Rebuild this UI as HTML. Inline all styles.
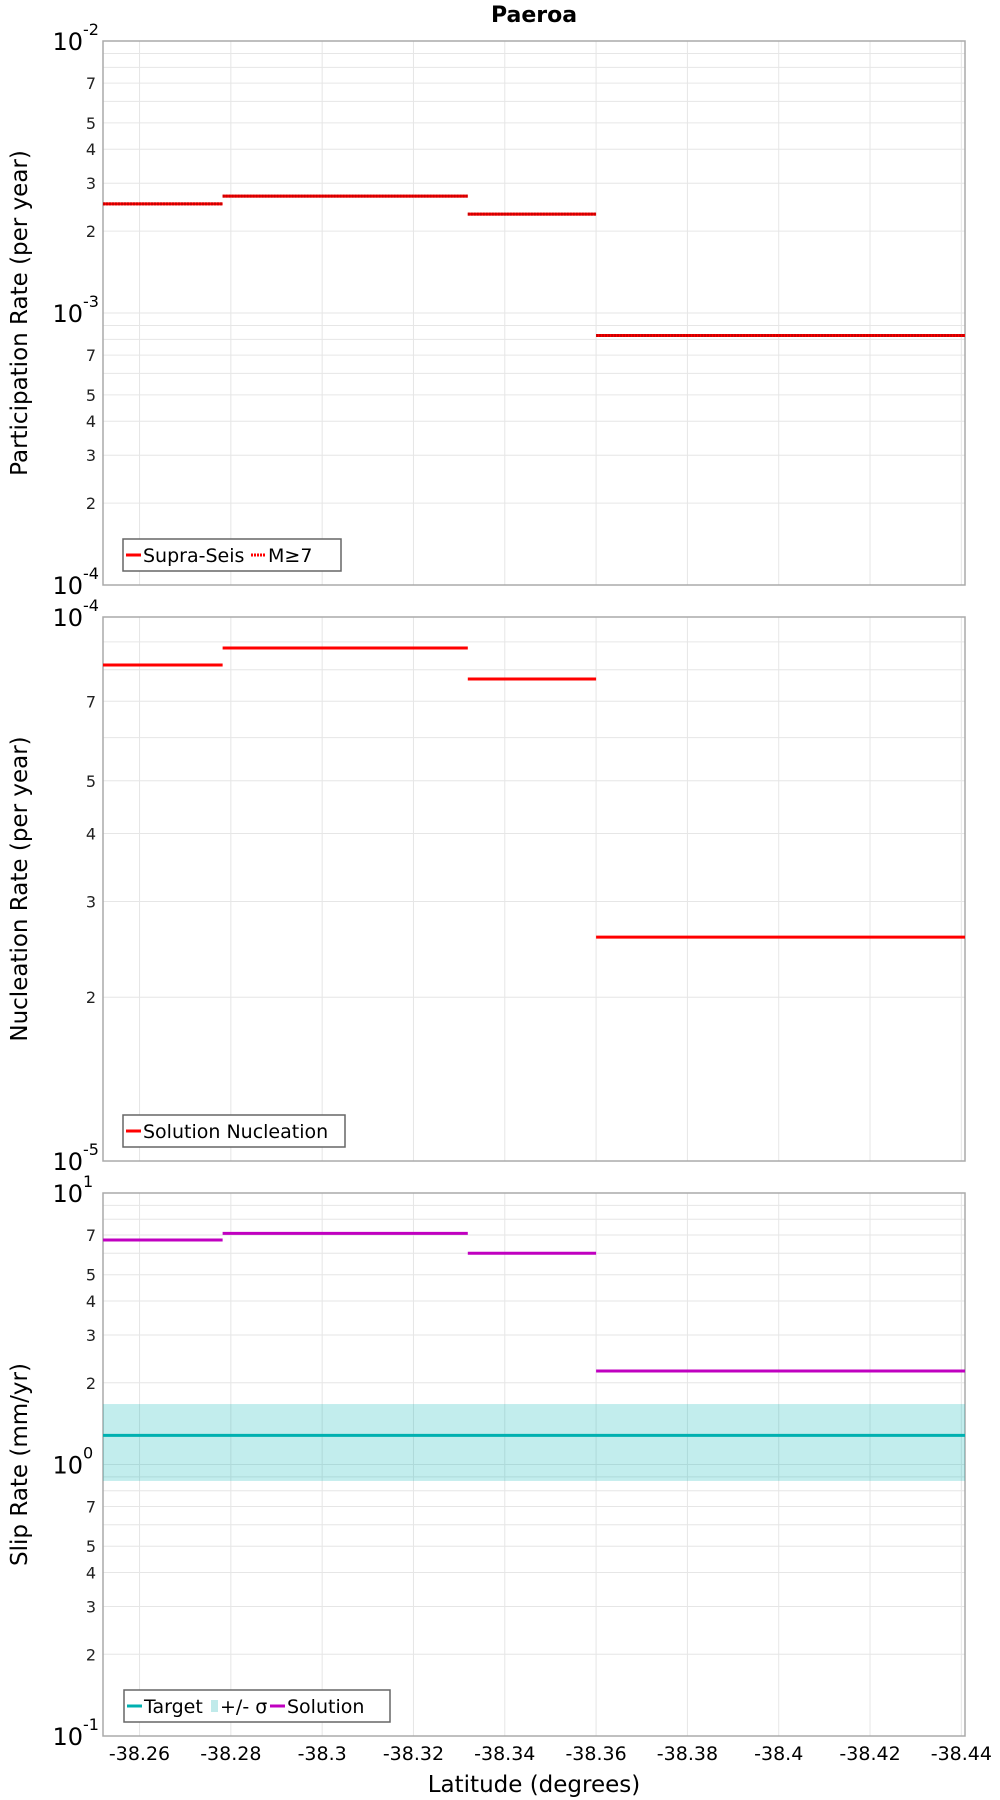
<!DOCTYPE html>
<html><head><meta charset="utf-8"><style>
html,body{margin:0;padding:0;background:#fff;}
svg{display:block;font-family:"DejaVu Sans","Liberation Sans",sans-serif;}
</style></head><body>
<svg id="chart" width="1000" height="1800" viewBox="0 0 1000 1800" xmlns="http://www.w3.org/2000/svg">
<text x="534" y="22" font-size="22" font-weight="bold" text-anchor="middle">Paeroa</text>
<text x="534" y="1792" font-size="23" text-anchor="middle">Latitude (degrees)</text>
</svg>
<script>
// ---- data ----
const xTicks = [-38.26,-38.28,-38.3,-38.32,-38.34,-38.36,-38.38,-38.4,-38.42,-38.44];
const xTickLabels = ["-38.26","-38.28","-38.3","-38.32","-38.34","-38.36","-38.38","-38.4","-38.42","-38.44"];
const segStart = [-38.252,-38.2782,-38.3319,-38.36];
const segEnd   = [-38.2782,-38.3319,-38.36,-38.4408];
const partSupra = [2.52e-3,2.69e-3,2.31e-3,8.27e-4];
const partM7    = [2.52e-3,2.69e-3,2.31e-3,8.27e-4];
const nuclSol   = [8.16e-5,8.77e-5,7.69e-5,2.58e-5];
const slipSol   = [6.71,7.1,6.0,2.21];
const slipTarget = 1.28;
const slipLow = 0.87;
const slipHigh = 1.67;

// ---- layout ----
const X0=103, X1=965, XMIN=-38.252, XMAX=-38.4408;
const NS='http://www.w3.org/2000/svg';
const svg=document.getElementById('chart');
function xs(v){return X0+(v-XMIN)/(XMAX-XMIN)*(X1-X0);}
function mk(tag,attrs,parent){const e=document.createElementNS(NS,tag);for(const k in attrs)e.setAttribute(k,attrs[k]);(parent||svg).appendChild(e);return e;}

function panel(name,top,bottom,dMin,dMax,title){
  const g=mk('g',{});
  
  
  const ys=v=>bottom-(Math.log10(v)-dMin)/(dMax-dMin)*(bottom-top);
  for(const t of xTicks){
    const l=mk('line',{x1:xs(t),x2:xs(t),y1:top,y2:bottom,stroke:'#e6e6e6','stroke-width':1},g);
    
    
  }
  for(let d=dMin; d<dMax; d++){
    for(let m=1;m<=10;m++){
      const v=m*Math.pow(10,d); const y=ys(v);
      const l=mk('line',{x1:X0,x2:X1,y1:y,y2:y,stroke:'#e6e6e6','stroke-width':1},g);
      
      
      if(m===1||m===10){
        if(m===10 && d<dMax-1) continue;
        const ex=(m===10)?d+1:d;
        const t=mk('text',{x:83,y:y+9,'font-size':24,'text-anchor':'end'},g);
        t.textContent='10';
        
        
        const s=mk('text',{x:83,y:y-6,'font-size':16},g);
        s.textContent=String(ex);
        
        
      } else if([2,3,4,5,7].includes(m)){
        const t=mk('text',{x:96,y:y+6,'font-size':16,'text-anchor':'end',fill:'#222'},g);
        t.textContent=String(m);
        
        
      }
    }
  }
  const fr=mk('rect',{x:X0,y:top,width:X1-X0,height:bottom-top,fill:'none',stroke:'#aaa','stroke-width':1.5},g);
  
  
  const cy=(top+bottom)/2;
  const at=mk('text',{x:0,y:0,'font-size':23,'text-anchor':'middle',transform:`translate(27,${cy}) rotate(-90)`},g);
  at.textContent=title;
  
  
  return {g,ys};
}
function steps(p,vals,color,dash,nm){
  for(let i=0;i<vals.length;i++){
    const y=p.ys(vals[i]);
    const a={x1:xs(segStart[i]),x2:xs(segEnd[i]),y1:y,y2:y,stroke:color,'stroke-width':3};
    if(dash)a['stroke-dasharray']=dash;
    const l=mk('line',a,p.g);
    
    
  }
}
function legend(p,x,y,w,items){
  const lg=mk('g',{},p.g);
  
  
  mk('rect',{x:x,y:y,width:w,height:32,fill:'#fff',stroke:'#666','stroke-width':1.5},lg);
  let cx=x+3;
  for(const it of items){
    if(it.box){mk('rect',{x:cx+1,y:y+10,width:7,height:12,fill:it.color},lg);cx+=10;}
    else{const a={x1:cx,x2:cx+15,y1:y+16,y2:y+16,stroke:it.color,'stroke-width':3};if(it.dash)a['stroke-dasharray']=it.dash;mk('line',a,lg);cx+=17;}
    const t=mk('text',{x:cx,y:y+23,'font-size':19},lg);
    t.textContent=it.label;
    
    
    cx+=it.w;
  }
}
const p1=panel('participation',41,585,-4,-2,'Participation Rate (per year)');
steps(p1,partSupra,'#ff0000',null,'supra-seis-segment');
steps(p1,partM7,'#cc0000','2,1','m7-segment');
legend(p1,123,539,218,[{label:'Supra-Seis',color:'#ff0000',w:108},{label:'M≥7',color:'#ff0000',dash:'2,1',w:60}]);
const p2=panel('nucleation',617,1161,-5,-4,'Nucleation Rate (per year)');
steps(p2,nuclSol,'#ff0000',null,'nucleation-segment');
legend(p2,123,1115,222,[{label:'Solution Nucleation',color:'#ff0000',w:200}]);
const p3=panel('slip',1193,1736,-1,1,'Slip Rate (mm/yr)');
const bt=p3.ys(slipHigh), bb=p3.ys(slipLow);
const band=mk('rect',{x:X0,y:bt,width:X1-X0,height:bb-bt,fill:'rgba(0,180,180,0.24)'},p3.g);


const ty=p3.ys(slipTarget);
const tl=mk('line',{x1:X0,x2:X1,y1:ty,y2:ty,stroke:'#00b0b0','stroke-width':3},p3.g);


steps(p3,slipSol,'#c000c0',null,'solution-segment');
legend(p3,124,1690,266,[{label:'Target',color:'#00b0b0',w:66},{label:'+/- σ',color:'#c0eaea',box:true,w:50},{label:'Solution',color:'#c000c0',w:90}]);
xTicks.forEach((t,i)=>{
  const e=mk('text',{x:xs(t),y:1760,'font-size':19,'text-anchor':'middle'});
  e.textContent=xTickLabels[i];
  
  
});
</script>
</body></html>
